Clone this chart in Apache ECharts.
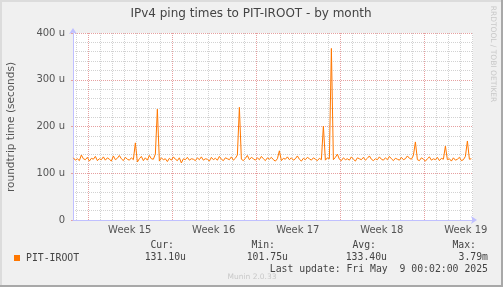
<!DOCTYPE html>
<html><head><meta charset="utf-8">
<script src="https://cdn.jsdelivr.net/npm/echarts@6/dist/echarts.min.js"></script>
<style>html,body{margin:0;padding:0;background:#f0f0f0}#c{width:503px;height:287px}</style>
</head><body><div id="c"></div>
<script>
const chartTitle = 'IPv4 ping times to PIT-IROOT - by month';
const yAxisName = 'roundtrip time (seconds)';
const seriesName = 'PIT-IROOT';
// x measured in days from the start (Monday 00:00) of Week 15
const xMin = -1.23;
const xMax = 32.1;
const sampleStart = -1.2;
const sampleStepDays = 4 / 24;
const weekLabels = ['Week 15', 'Week 16', 'Week 17', 'Week 18', 'Week 19'];
const yMin = 0, yMax = 400, yStep = 100;
// roundtrip time in microseconds, one sample every 4 hours
const rtt = [
  133,128,131,127,139,131,
  129,134,126,132,130,136,
  127,131,129,135,128,133,
  130,126,137,129,132,138,
  131,127,134,130,128,133,
  129,165,124,131,136,127,
  133,128,138,131,130,141,
  237,126,133,129,131,125,
  132,128,135,130,127,133,
  122,131,129,134,128,131,
  130,127,133,129,135,128,
  131,130,126,134,129,132,
  128,136,130,127,133,131,
  129,135,128,132,139,241,
  130,127,132,138,129,134,
  131,128,133,129,136,131,
  127,133,130,134,129,126,
  131,148,127,132,130,135,
  129,133,128,131,137,130,
  126,132,129,134,131,128,
  133,130,127,132,129,201,
  128,133,131,367,129,134,
  141,130,127,133,129,131,
  128,135,130,126,133,131,
  129,134,128,132,137,130,
  127,131,129,135,130,128,
  133,129,136,131,127,132,
  130,128,134,129,131,137,
  132,130,138,167,129,127,
  133,130,126,131,135,128,
  131,129,134,127,132,130,
  158,129,131,126,133,128,
  130,134,127,129,136,169,
  130,131
];
const statHeads = ['Cur:', 'Min:', 'Avg:', 'Max:'];
const statValues = ['131.10u', '101.75u', '133.40u', '3.79m'];
const lastUpdate = 'Last update: Fri May  9 00:02:00 2025';
const footer = 'Munin 2.0.33';
const sideText = 'RRDTOOL / TOBI OETIKER';

const LINE = '#ff7700';
const MAJOR = '#e6a0a0';
const MINOR = '#d2d2d2';
const AXIS = '#c0c0ff';
const TXT = '#555';
const MONO = '"DejaVu Sans Mono", monospace';
const SANS = '"DejaVu Sans", sans-serif';

const dayTicks = [];
for (let d = Math.ceil(xMin); d <= xMax; d++) if (d % 7 !== 0) dayTicks.push(d);
const weekTicks = [];
for (let d = 0; d <= xMax; d += 7) weekTicks.push(d);
const weekLabelPos = weekLabels.map((_, i) => 3.5 + 7 * i);

const data = rtt.map((v, i) => [sampleStart + i * sampleStepDays, v]);

const chart = echarts.init(document.getElementById('c'), null, {renderer: 'canvas'});
const grid = {left: 73, top: 33, width: 400, height: 187, show: true, backgroundColor: '#ffffff', borderWidth: 0};

const statX = [[174, 186], [275, 288], [376, 387], [476, 488]];
const graphic = [
  {type: 'rect', shape: {x: 0, y: 0, width: 503, height: 2}, style: {fill: '#dcdcdc'}, silent: true},
  {type: 'rect', shape: {x: 0, y: 0, width: 2, height: 287}, style: {fill: '#dcdcdc'}, silent: true},
  {type: 'rect', shape: {x: 501, y: 0, width: 2, height: 287}, style: {fill: '#a8a8a8'}, silent: true},
  {type: 'rect', shape: {x: 0, y: 285, width: 503, height: 2}, style: {fill: '#a8a8a8'}, silent: true},
  {type: 'text', x: 251, y: 14, style: {text: chartTitle, font: '12px ' + SANS, fill: '#444', textAlign: 'center', textVerticalAlign: 'middle'}},
  {type: 'text', x: 11, y: 127, rotation: Math.PI / 2, style: {text: yAxisName, font: '10.5px ' + SANS, fill: TXT, textAlign: 'center', textVerticalAlign: 'middle'}},
  {type: 'text', x: 493, y: 54, rotation: -Math.PI / 2, style: {text: sideText, font: '7.5px ' + SANS, fill: '#c8c8c8', textAlign: 'center', textVerticalAlign: 'middle'}},
  {type: 'rect', shape: {x: 14, y: 255, width: 6, height: 6}, style: {fill: LINE}},
  {type: 'text', x: 26, y: 258, style: {text: seriesName, font: '9.8px ' + MONO, fill: '#444', textAlign: 'left', textVerticalAlign: 'middle'}},
  {type: 'text', x: 488, y: 269, style: {text: lastUpdate, font: '9.8px ' + MONO, fill: '#444', textAlign: 'right', textVerticalAlign: 'middle'}},
  {type: 'text', x: 252, y: 277, style: {text: footer, font: '7.5px ' + SANS, fill: '#c8c8c8', textAlign: 'center', textVerticalAlign: 'middle'}}
];
statHeads.forEach((h, i) => {
  graphic.push({type: 'text', x: statX[i][0], y: 245, style: {text: h, font: '9.8px ' + MONO, fill: '#444', textAlign: 'right', textVerticalAlign: 'middle'}});
  graphic.push({type: 'text', x: statX[i][1], y: 257, style: {text: statValues[i], font: '9.8px ' + MONO, fill: '#444', textAlign: 'right', textVerticalAlign: 'middle'}});
});

const dotted = (c) => ({color: c, width: 1, type: [1, 1], opacity: 1});

const gridLineSeries = (ticks, color, z) => ({
  type: 'line', xAxisIndex: 0, yAxisIndex: 0, data: [[xMin, yMin]], symbol: 'none', silent: true,
  lineStyle: {opacity: 0}, z: z,
  markLine: {silent: true, symbol: ['none', 'none'], label: {show: false}, animation: false,
    lineStyle: dotted(color), emphasis: {disabled: true},
    data: ticks.map(t => ({xAxis: t}))}
});

chart.setOption({
  backgroundColor: '#f0f0f0',
  animation: false,
  grid: grid,
  xAxis: [
    {type: 'value', min: xMin, max: xMax, z: 5,
      axisLine: {show: true, onZero: false, lineStyle: {color: AXIS, width: 1}, symbol: ['none', 'arrow'], symbolSize: [6, 6], symbolOffset: [0, 4]},
      axisTick: {show: false}, axisLabel: {show: false}, splitLine: {show: false}},
    {type: 'value', min: xMin, max: xMax, position: 'bottom', z: 3,
      axisLine: {show: false}, axisTick: {show: false}, splitLine: {show: false},
      axisLabel: {show: true, customValues: weekLabelPos, margin: 5, color: TXT, fontFamily: SANS, fontSize: 10,
        formatter: (v) => weekLabels[Math.round((v - 3.5) / 7)] || ''}}
  ],
  yAxis: [
    {type: 'value', min: yMin, max: yMax, interval: yStep, z: 4, position: 'left',
      axisLine: {show: true, onZero: false, lineStyle: {color: AXIS, width: 1}, symbol: ['none', 'arrow'], symbolSize: [6, 6], symbolOffset: [0, 5]},
      axisTick: {show: true, length: 2, lineStyle: {color: MAJOR}},
      axisLabel: {show: true, margin: 8, color: TXT, fontFamily: SANS, fontSize: 10,
        formatter: (v) => v === 0 ? '0' : v + ' u'},
      splitLine: {show: true, lineStyle: dotted(MAJOR)},
      minorTick: {show: false, splitNumber: 5},
      minorSplitLine: {show: true, lineStyle: dotted(MINOR)}}
  ],
  series: [
    gridLineSeries(dayTicks, MINOR, 1),
    gridLineSeries(weekTicks, MAJOR, 1),
    {type: 'line', name: seriesName, xAxisIndex: 0, yAxisIndex: 0, data: data, symbol: 'none',
      lineStyle: {color: LINE, width: 1}, z: 10}
  ],
  graphic: graphic
});
</script></body></html>
